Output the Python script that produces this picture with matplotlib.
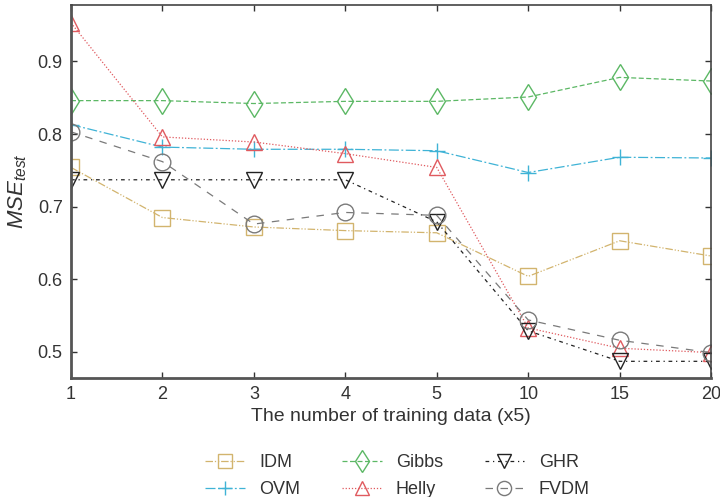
import numpy as np
import matplotlib.pyplot as plt

plt.rcParams['font.family'] = ['Liberation Sans', 'DejaVu Sans']
plt.rcParams['mathtext.fontset'] = 'custom'
plt.rcParams['mathtext.it'] = 'Liberation Sans:italic'
plt.rcParams['mathtext.rm'] = 'Liberation Sans'

# training set sizes (x5)
sizes = ['1', '2', '3', '4', '5', '10', '15', '20']

idm = [0.754, 0.685, 0.672, 0.667, 0.664, 0.604, 0.653, 0.632]
ovm = [0.813, 0.782, 0.779, 0.779, 0.777, 0.747, 0.768, 0.767]
gibbs = [0.846, 0.846, 0.842, 0.845, 0.845, 0.851, 0.878, 0.873]
helly = [0.953, 0.796, 0.789, 0.773, 0.754, 0.533, 0.505, 0.499]
ghr = [0.737, 0.737, 0.737, 0.737, 0.679, 0.529, 0.487, 0.487]
fvdm = [0.803, 0.762, 0.676, 0.692, 0.688, 0.544, 0.516, 0.499]

models = ['IDM', 'OVM', 'Gibbs', 'Helly', 'GHR', 'FVDM']
series = [idm, ovm, gibbs, helly, ghr, fvdm]
colors = ['#d2b46e', '#3fb3d6', '#5cb865', '#e05a5f', '#222222', '#7a7a7a']
markers = ['s', '+', 'd', '^', 'v', 'o']
styles = [(0, (6, 1.5, 1, 1.5, 1, 1.5)), (0, (8, 2, 1.5, 2)), (0, (4, 2)),
          (0, (1, 1.5)), (0, (3, 3, 1, 3)), (0, (6, 6))]

fig = plt.figure(figsize=(7.2, 4.97), dpi=100)
ax = fig.add_axes([0.0986, 0.2394, 0.889, 0.751])

x = np.arange(len(sizes))
for name, vals, c, m, ls in zip(models, series, colors, markers, styles):
    ax.plot(x, vals, color=c, linestyle=ls, linewidth=0.9,
            marker=m, markersize=12 if m != 'd' else 13,
            markerfacecolor='none', markeredgecolor=c,
            markeredgewidth=1.0, label=name)

ax.set_xlim(0, len(sizes) - 1)
ax.set_ylim(0.464, 0.978)
ax.set_xticks(x)
ax.set_xticklabels(sizes)
ax.set_yticks([0.5, 0.6, 0.7, 0.8, 0.9])
ax.set_yticklabels(['0.5', '0.6', '0.7', '0.8', '0.9'])
ax.tick_params(direction='in', length=4, width=1, labelsize=13,
               colors='#333333', top=True, right=True, pad=6)

for side in ['left', 'bottom']:
    ax.spines[side].set_linewidth(2.0)
    ax.spines[side].set_color('#555555')
for side in ['top', 'right']:
    ax.spines[side].set_linewidth(1.2)
    ax.spines[side].set_color('#444444')

ax.set_xlabel('The number of training data (x5)', fontsize=14,
              color='#333333', labelpad=3)
ax.set_ylabel('$MSE_{test}$', fontsize=16, color='#333333', labelpad=6)

leg = ax.legend(loc='upper center', bbox_to_anchor=(0.51, -0.16), ncol=3,
                frameon=False, fontsize=13, handlelength=2.2, markerscale=0.85,
                columnspacing=2.3, labelspacing=0.55, handletextpad=0.8)
for t in leg.get_texts():
    t.set_color('#333333')

fig.savefig('out.png', dpi=100)
